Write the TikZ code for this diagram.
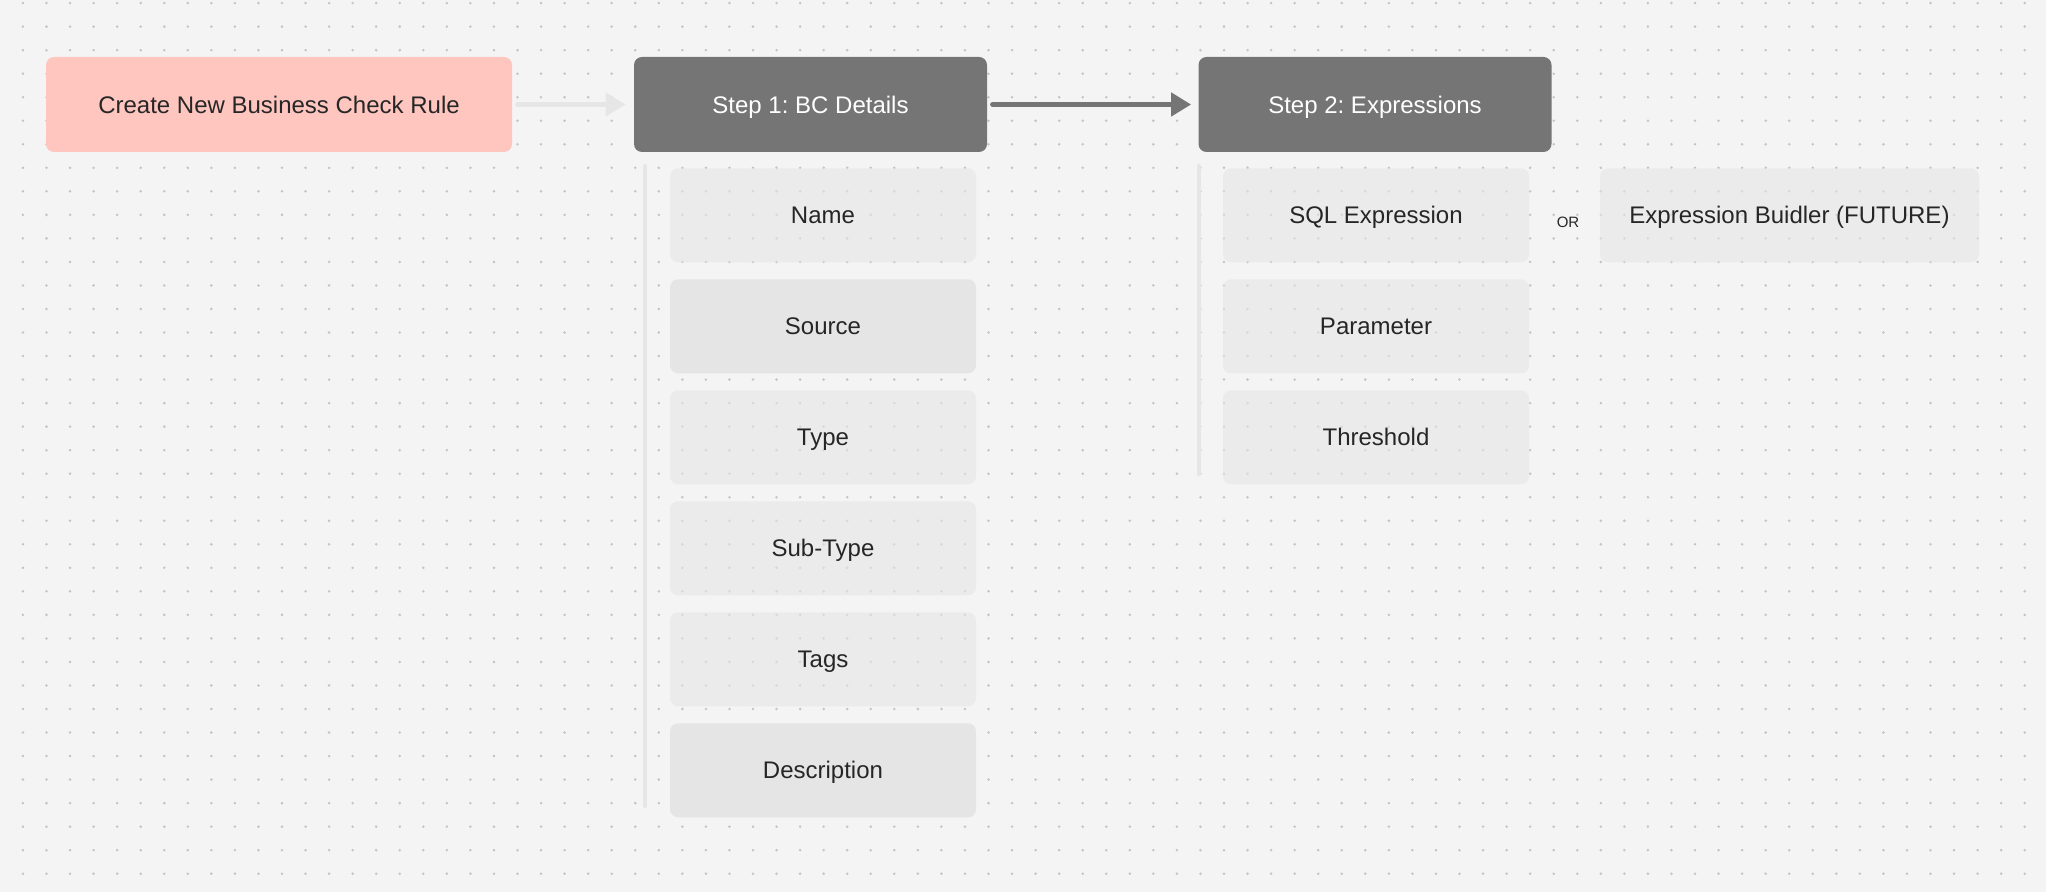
\documentclass[tikz,border=0pt]{standalone}
\usepackage{fontspec}
\setmainfont{Liberation Sans}
\usetikzlibrary{arrows.meta}
\frenchspacing

\definecolor{canvas}{HTML}{F4F4F4}
\definecolor{dotgray}{HTML}{C4C4C4}
\definecolor{startpink}{HTML}{FFC6C0}
\definecolor{stepgray}{HTML}{757575}
\definecolor{fieldgray}{HTML}{E5E5E5}
\definecolor{guidegray}{HTML}{E6E6E6}
\definecolor{textdark}{HTML}{262626}

\begin{document}
\begin{tikzpicture}[
				x=0.5pt, y=-0.5pt,
				line cap=round,
				line join=round,
				every node/.style={font=\fontsize{12}{14}\selectfont, inner sep=0pt, text height=8.6pt, text depth=0pt},
				startbox/.style={fill=startpink, rounded corners=4pt, minimum width=233pt, minimum height=47.5pt, text=textdark},
				stepbox/.style={fill=stepgray, rounded corners=4pt, minimum width=176.5pt, minimum height=47.5pt, text=white},
				fieldbox/.style={fill=fieldgray, fill opacity=0.6, text opacity=1, rounded corners=4pt, minimum width=153pt, minimum height=47pt, text=textdark},
				solidfield/.style={fieldbox, fill opacity=1},
				guide/.style={draw=guidegray, line width=2.1pt},
				flowlight/.style={draw=guidegray, line width=2.3pt, -{Triangle[length=10pt, width=11.5pt]}},
				flowdark/.style={draw=stepgray, line width=2.3pt, -{Triangle[length=10pt, width=11.5pt]}}
				]
				% Canvas
				\fill[canvas] (0,0) rectangle (2046,892);
				\useasboundingbox (0,0) rectangle (2046,892);
				\foreach \i in {0,...,85}
					\foreach \j in {0,...,37}
						\fill[dotgray] (22.95+23.55*\i, 3.1+23.53*\j) circle (1.4);
				
				% Header boxes
				\node[startbox] (create) at (279,104.5) {Create New Business Check Rule};
				\node[stepbox] (bcstep) at (810.5,104.5) {Step 1: BC Details};
				\node[stepbox] (exprstep) at (1375,104.5) {Step 2: Expressions};
				
				% Arrows
				\draw[flowlight, shorten <=2.5pt, shorten >=4pt] (create) -- (bcstep);
				\draw[flowdark, shorten <=2.5pt, shorten >=3.5pt] (bcstep) -- (exprstep);
				
				% Step 1 fields
				\node[fieldbox] (name) at (823,215.3) {Name};
				\node[solidfield] (source) at (823,326.3) {Source};
				\node[fieldbox] (type) at (823,437.3) {Type};
				\node[fieldbox] (subtype) at (823,548.3) {Sub-Type};
				\node[fieldbox] (tags) at (823,659.3) {Tags};
				\node[solidfield] (desc) at (823,770.3) {Description};
				
				% Step 2 fields
				\node[fieldbox] (sqlexpr) at (1376,215.3) {SQL Expression};
				\node[fieldbox] (param) at (1376,326.3) {Parameter};
				\node[fieldbox] (thresh) at (1376,437.3) {Threshold};
				\node[fieldbox, minimum width=189.5pt] (builder) at (1789.5,215.3) {Expression Buidler (FUTURE)};
				\node[font=\fontsize{7.5}{9}\selectfont, text height=5.4pt, text=textdark] (ortext) at (1568,222) {OR};
				
				% Guide lines
				\coordinate (g1top) at (645.3,166);
				\coordinate (g1bot) at (645.3,806);
				\coordinate (g2top) at (1199.3,166);
				\coordinate (g2bot) at (1199.3,474);
				\draw[guide] (g1top) -- (g1bot);
				\draw[guide] (g2top) -- (g2bot);
			\end{tikzpicture}
\end{document}
